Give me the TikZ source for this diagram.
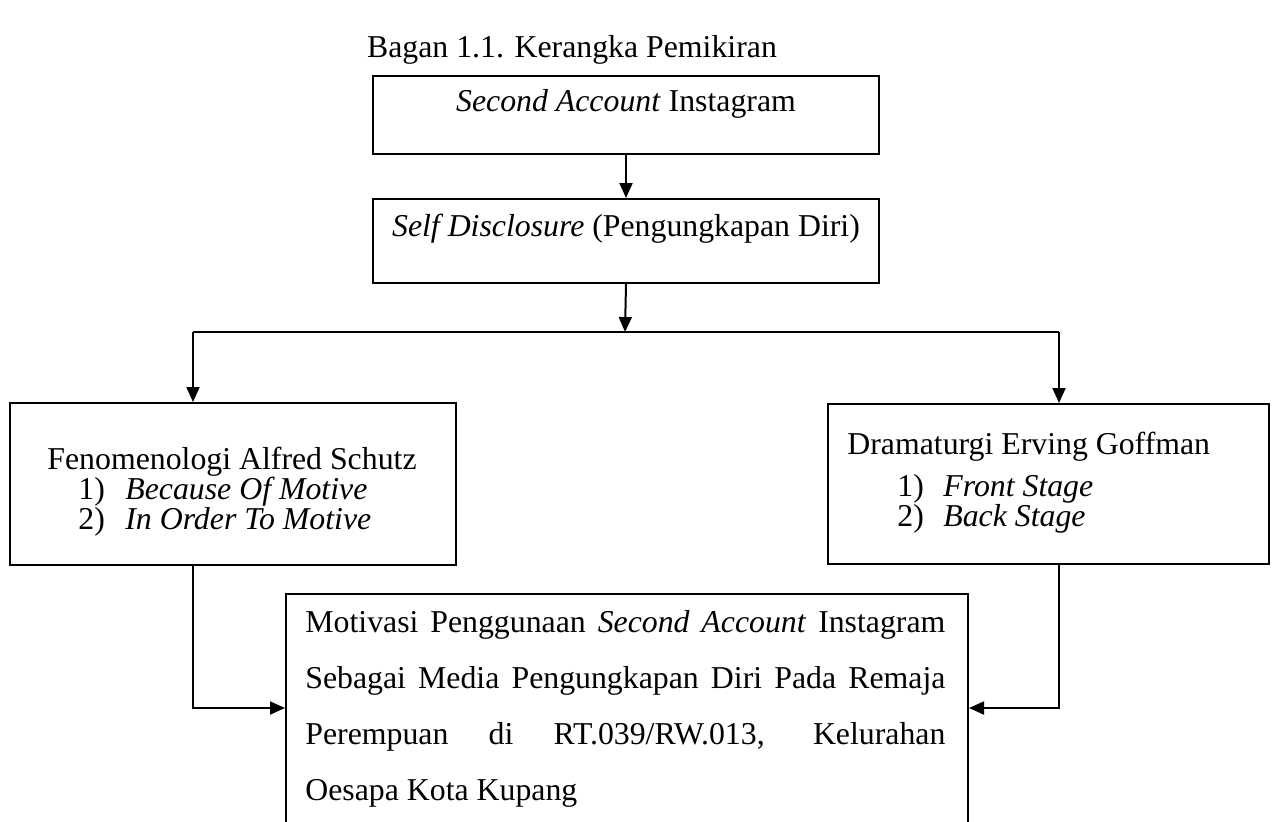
\documentclass[tikz,border=0pt]{standalone}
\usepackage{fontspec}
\setmainfont{Liberation Serif}
\usetikzlibrary{arrows.meta,positioning,calc}

\begin{document}
\begin{tikzpicture}[x=0.5pt, y=-0.5pt,
    every node/.style={font=\fontsize{15.9}{19}\selectfont, inner sep=0pt},
    kotak/.style={draw, line width=1pt, rectangle, anchor=north west},
    garis/.style={line width=1pt},
    panah/.style={line width=1pt, -{Triangle[length=7.5pt, width=6.5pt]}},
    butir/.style={anchor=base west, text height=10pt, text depth=3pt}
  ]
    % Bidang gambar
    \path[use as bounding box, fill=white] (0,0) rectangle (1277,821);
    \clip (0,0) rectangle (1277,821);

    % Judul
    \node[anchor=base] (judul) at (572,57) {Bagan 1.1. Kerangka Pemikiran};

    % Kotak atas
    \node[kotak, minimum width=253pt, text height=17.5pt, text depth=21.5pt] (akun) at (372,75) {\textit{Second Account} Instagram};
    \node[kotak, minimum width=253pt, text height=18.5pt, text depth=23.5pt] (diri) at (372,198) {\textit{Self Disclosure} (Pengungkapan Diri)};

    % Kotak kiri (Schutz)
    \node[kotak, minimum width=223pt, minimum height=81pt] (schutz) at (9,402) {};
    \node[butir, anchor=base] (schutzjudul) at (232,469) {Fenomenologi Alfred Schutz};
    \node[butir] (schutzsatu) at (78,499) {\makebox[23.5pt][l]{1)}\textit{Because Of Motive}};
    \node[butir] (schutzdua) at (78,529) {\makebox[23.5pt][l]{2)}\textit{In Order To Motive}};

    % Kotak kanan (Goffman)
    \node[kotak, minimum width=220.5pt, minimum height=80pt] (goffman) at (827,403) {};
    \node[butir] (goffmanjudul) at (847,454) {Dramaturgi Erving Goffman};
    \node[butir] (goffmansatu) at (897,496) {\makebox[23pt][l]{1)}\textit{Front Stage}};
    \node[butir] (goffmandua) at (897,526) {\makebox[23pt][l]{2)}\textit{Back Stage}};

    % Kotak bawah
    \node[kotak, minimum width=341pt, minimum height=143.5pt] (motivasi) at (285,593) {};
    \node[anchor=base west, align=left, font=\fontsize{15.9}{27.85}\selectfont] (motivasiteks) at (305,800) {%
      \makebox[320pt][s]{Motivasi Penggunaan \textit{Second Account} Instagram}\\
      \makebox[320pt][s]{Sebagai Media Pengungkapan Diri Pada Remaja}\\
      \makebox[320pt][s]{Perempuan di RT.039/RW.013, Kelurahan}\\
      Oesapa Kota Kupang};

    % Titik cabang
    \coordinate (tengah) at (625,332);
    \coordinate (kiri) at (193,332);
    \coordinate (kanan) at (1059,332);
    \coordinate (masuk) at (625,708);

    % Panah
    \draw[panah] (akun.south) -- (diri.north);
    \draw[panah] (diri.south) -- (tengah);
    \draw[garis] (kiri) -- (kanan);
    \draw[panah] (kiri) -- (kiri |- schutz.north);
    \draw[panah] (kanan) -- (kanan |- goffman.north);
    \draw[panah] (kiri |- schutz.south) |- (masuk -| motivasi.west);
    \draw[panah] (kanan |- goffman.south) |- (masuk -| motivasi.east);
  \end{tikzpicture}
\end{document}
